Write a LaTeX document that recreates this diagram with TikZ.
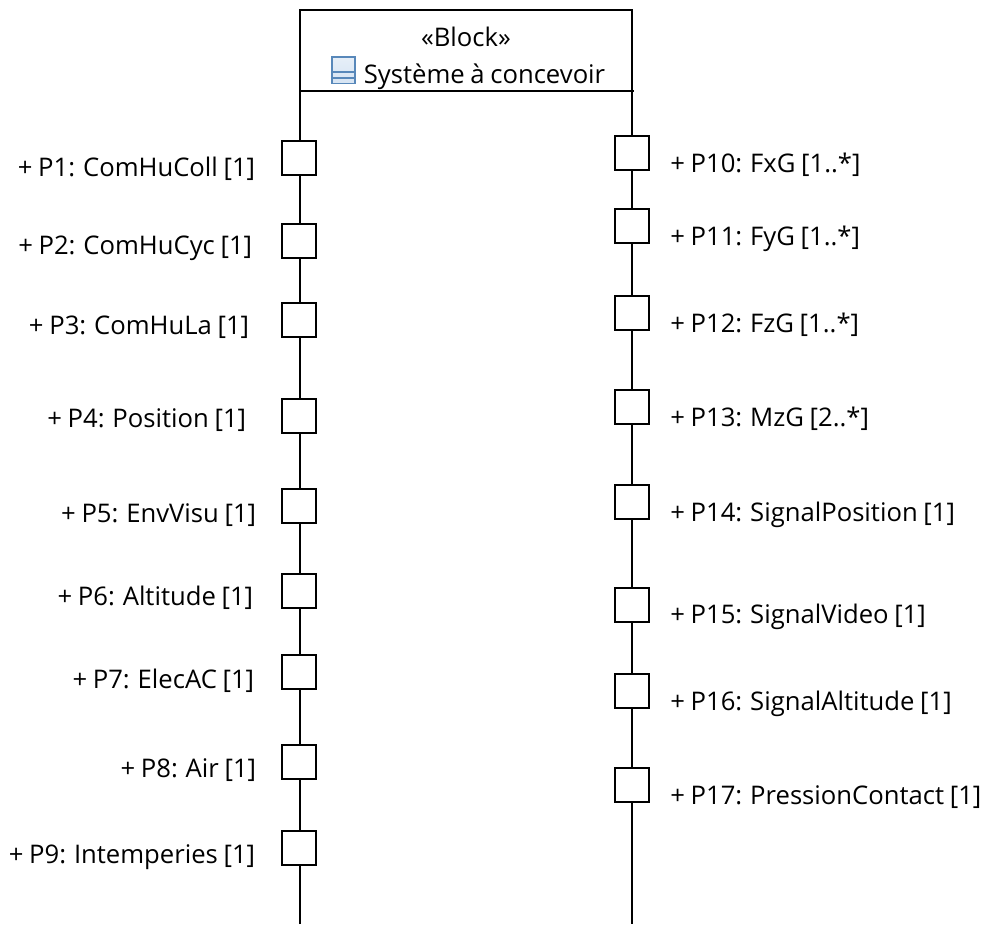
\documentclass[tikz,border=0pt]{standalone}
\usepackage{fontspec}
\setmainfont[WordSpace=0.85]{Open Sans}
\usetikzlibrary{positioning}
\definecolor{iconblue}{RGB}{88,136,186}
\definecolor{iconlight}{RGB}{214,228,243}
\tikzset{
  port/.style={draw=black, fill=white, line width=1.2pt, minimum size=0.68cm, inner sep=0pt},
  plabel/.style={font=\fontsize{14.6}{17}\selectfont, inner sep=0pt, anchor=east},
  rlabel/.style={font=\fontsize{14.6}{17}\selectfont, inner sep=0pt, anchor=west},
  blocktext/.style={font=\fontsize{14.6}{17}\selectfont, inner sep=0pt},
  blockline/.style={draw=black, line width=1.1pt},
}
\begin{document}
\begin{tikzpicture}[x=0.02cm, y=-0.02cm]
  \useasboundingbox (0,0) rectangle (983,924);
  % Block outline
  \coordinate (blockTL) at (300,10);
  \coordinate (blockTR) at (632,10);
  \coordinate (blockBL) at (300,924);
  \coordinate (blockBR) at (632,924);
  \coordinate (sepL) at (300,91);
  \coordinate (sepR) at (634,91);
  \draw[blockline] (blockBL) -- (blockTL) -- (blockTR) -- (blockBR);
  \draw[blockline] (sepL) -- (sepR);
  % Header
  \node[blocktext] (stereo) at (466,37) {«Block»};
  \node[blocktext] (blockname) at (484.5,77) {Système à concevoir};
  % Block icon
  \shade[top color=iconlight!60!white, bottom color=iconlight] (332,57) rectangle (355,83.5);
  \draw[iconblue, line width=0.7pt] (332,57) rectangle (355,83.5);
  \draw[iconblue, line width=0.7pt] (332,72) -- (355,72);
  \draw[iconblue, line width=0.7pt] (332,78) -- (355,78);

  % Left ports
  \node[port] (p1) at (299,158) {};
  \node[port] (p2) at (299,241) {};
  \node[port] (p3) at (299,320) {};
  \node[port] (p4) at (299,416) {};
  \node[port] (p5) at (299,506) {};
  \node[port] (p6) at (299,591) {};
  \node[port] (p7) at (299,672) {};
  \node[port] (p8) at (299,762) {};
  \node[port] (p9) at (299,848) {};
  % Left labels
  \node[plabel] (l1) at (255.5,169) {+ P1: ComHuColl [1]};
  \node[plabel] (l2) at (252.5,248) {+ P2: ComHuCyc [1]};
  \node[plabel] (l3) at (249.5,327) {+ P3: ComHuLa [1]};
  \node[plabel] (l4) at (246.5,420) {+ P4: Position [1]};
  \node[plabel] (l5) at (256.5,515) {+ P5: EnvVisu [1]};
  \node[plabel] (l6) at (253.5,598) {+ P6: Altitude [1]};
  \node[plabel] (l7) at (254.5,681) {+ P7: ElecAC [1]};
  \node[plabel] (l8) at (256.5,770) {+ P8: Air [1]};
  \node[plabel] (l9) at (255.5,857) {+ P9: Intemperies [1]};

  % Right ports
  \node[port] (p10) at (632,153) {};
  \node[port] (p11) at (632,226) {};
  \node[port] (p12) at (632,313) {};
  \node[port] (p13) at (632,407) {};
  \node[port] (p14) at (632,502) {};
  \node[port] (p15) at (632,605) {};
  \node[port] (p16) at (632,691) {};
  \node[port] (p17) at (632,785) {};
  % Right labels
  \node[rlabel] (l10) at (670,165) {+ P10: FxG [1..*]};
  \node[rlabel] (l11) at (670,239) {+ P11: FyG [1..*]};
  \node[rlabel] (l12) at (670,325) {+ P12: FzG [1..*]};
  \node[rlabel] (l13) at (670,419) {+ P13: MzG [2..*]};
  \node[rlabel] (l14) at (670,515) {+ P14: SignalPosition [1]};
  \node[rlabel] (l15) at (670,617) {+ P15: SignalVideo [1]};
  \node[rlabel] (l16) at (670,704) {+ P16: SignalAltitude [1]};
  \node[rlabel] (l17) at (670,797) {+ P17: PressionContact [1]};
\end{tikzpicture}
\end{document}
